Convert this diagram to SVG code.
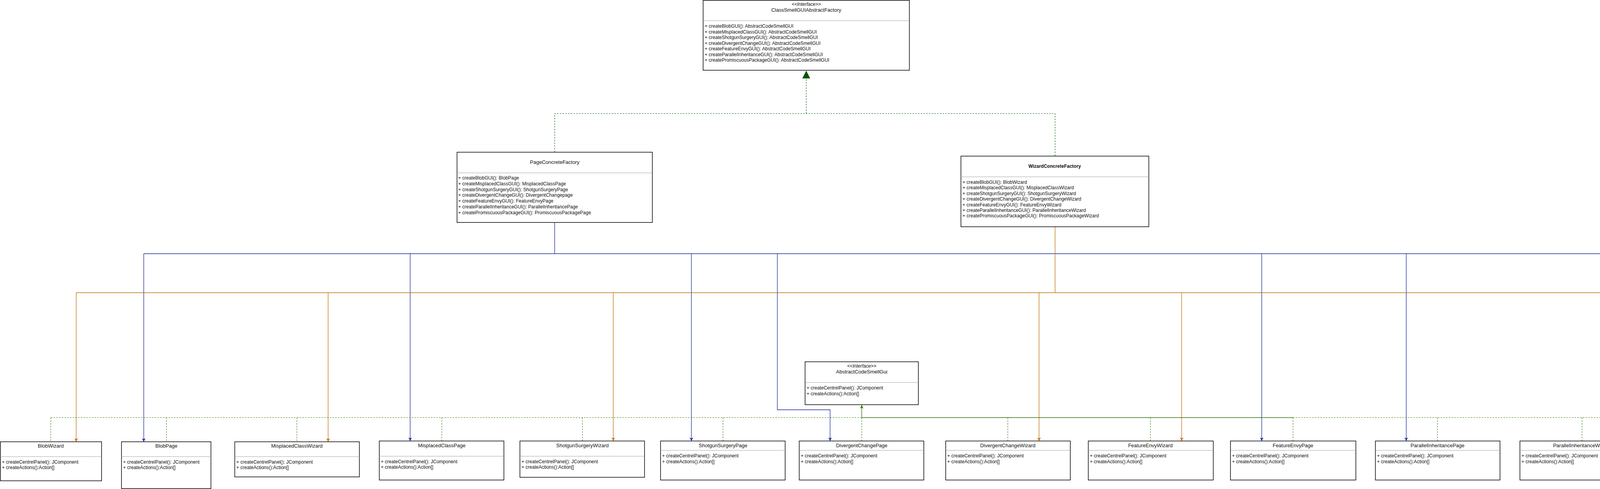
<svg xmlns="http://www.w3.org/2000/svg" width="4920" height="1253" viewBox="0 0 4920 1253">
<style>
.box{fill:#ffffff;stroke:#000000;stroke-width:1.5}
.div{stroke:#a0a0a0;stroke-width:1.2}
text{font-family:"Liberation Sans",Arial,sans-serif;fill:#111111}
.t{font-size:13px;text-anchor:middle}
.tb{font-size:12px;text-anchor:middle;font-weight:bold}
.st{font-size:12px;text-anchor:middle;font-style:italic}
.m{font-size:12px}
.blue{fill:none;stroke:#16289a;stroke-width:1.3}
.orange{fill:none;stroke:#bd7000;stroke-width:1.3}
.gd{fill:none;stroke:#2d7600;stroke-width:1.1;stroke-dasharray:4 3}
.gs{fill:none;stroke:#2d7600;stroke-width:1.3}
.gtop{fill:none;stroke:#005700;stroke-width:1.1;stroke-dasharray:4 3}
</style>
<defs>
<marker id="aBlue" markerUnits="userSpaceOnUse" markerWidth="10" markerHeight="10" refX="9" refY="4.5" orient="auto">
<path d="M0,0 L9,4.5 L0,9 L2.5,4.5 Z" fill="#16289a"/>
</marker>
<marker id="aOrange" markerUnits="userSpaceOnUse" markerWidth="10" markerHeight="10" refX="9" refY="4.5" orient="auto">
<path d="M0,0 L9,4.5 L0,9 L2.5,4.5 Z" fill="#bd7000"/>
</marker>
<marker id="aGreen" markerUnits="userSpaceOnUse" markerWidth="10" markerHeight="10" refX="9" refY="4.5" orient="auto">
<path d="M0,0 L9,4.5 L0,9 L2.5,4.5 Z" fill="#2d7600"/>
</marker>
</defs>
<rect x="0" y="0" width="4920" height="1253" fill="#ffffff"/>

<g id="connectors">
<!-- realization of top interface -->
<polyline class="gtop" points="1420,390 1420,291 2701,291 2701,400"/>
<line class="gtop" x1="2064" y1="291" x2="2064" y2="201"/>
<polygon points="2064,181 2054,201 2074,201" fill="#005700"/>

<!-- PageConcreteFactory creations (blue) -->
<line class="blue" x1="1420" y1="570" x2="1420" y2="650"/>
<line class="blue" x1="368" y1="650" x2="4679" y2="650"/>
<line class="blue" x1="368" y1="650" x2="368" y2="1132" marker-end="url(#aBlue)"/>
<line class="blue" x1="1050" y1="650" x2="1050" y2="1130" marker-end="url(#aBlue)"/>
<line class="blue" x1="1770" y1="650" x2="1770" y2="1130" marker-end="url(#aBlue)"/>
<polyline class="blue" points="1990,650 1990,1050 2125,1050 2125,1130" marker-end="url(#aBlue)"/>
<line class="blue" x1="3230" y1="650" x2="3230" y2="1130" marker-end="url(#aBlue)"/>
<line class="blue" x1="3600" y1="650" x2="3600" y2="1130" marker-end="url(#aBlue)"/>
<line class="blue" x1="4679" y1="650" x2="4679" y2="1130" marker-end="url(#aBlue)"/>

<!-- WizardConcreteFactory creations (orange) -->
<line class="orange" x1="2701" y1="581" x2="2701" y2="750"/>
<line class="orange" x1="195" y1="750" x2="4490" y2="750"/>
<line class="orange" x1="195" y1="750" x2="195" y2="1132" marker-end="url(#aOrange)"/>
<line class="orange" x1="840" y1="750" x2="840" y2="1132" marker-end="url(#aOrange)"/>
<line class="orange" x1="1570" y1="750" x2="1570" y2="1130" marker-end="url(#aOrange)"/>
<line class="orange" x1="2660" y1="750" x2="2660" y2="1130" marker-end="url(#aOrange)"/>
<line class="orange" x1="3025" y1="750" x2="3025" y2="1130" marker-end="url(#aOrange)"/>
<line class="orange" x1="4130" y1="750" x2="4130" y2="1130" marker-end="url(#aOrange)"/>
<line class="orange" x1="4490" y1="750" x2="4490" y2="1130" marker-end="url(#aOrange)"/>

<!-- realization of AbstractCodeSmellGui (green) -->
<line class="gd" x1="130" y1="1070" x2="2206" y2="1070"/>
<line class="gs" x1="2206" y1="1070" x2="3310" y2="1070"/>
<line class="gd" x1="3310" y1="1070" x2="4759" y2="1070"/>
<line class="gs" x1="2206" y1="1070" x2="2206" y2="1038" marker-end="url(#aGreen)"/>
<line class="gd" x1="130" y1="1070" x2="130" y2="1132"/>
<line class="gd" x1="426" y1="1070" x2="426" y2="1132"/>
<line class="gd" x1="760" y1="1070" x2="760" y2="1132"/>
<line class="gd" x1="1131" y1="1070" x2="1131" y2="1130"/>
<line class="gd" x1="1491" y1="1070" x2="1491" y2="1130"/>
<line class="gd" x1="1851" y1="1070" x2="1851" y2="1130"/>
<line class="gd" x1="2206" y1="1070" x2="2206" y2="1130"/>
<line class="gd" x1="2580" y1="1070" x2="2580" y2="1130"/>
<line class="gd" x1="2945" y1="1070" x2="2945" y2="1130"/>
<line class="gd" x1="3310" y1="1070" x2="3310" y2="1130"/>
<line class="gd" x1="3680" y1="1070" x2="3680" y2="1130"/>
<line class="gd" x1="4050" y1="1070" x2="4050" y2="1130"/>
<line class="gd" x1="4410" y1="1070" x2="4410" y2="1130"/>
<line class="gd" x1="4759" y1="1070" x2="4759" y2="1130"/>
</g>

<g id="ClassSmellGUIAbstractFactory">
<rect class="box" x="1800" y="1" width="528" height="179"/>
<line class="div" x1="1800" y1="53" x2="2328" y2="53"/>
<text class="st" x="2064" y="15">&lt;&lt;Interface&gt;&gt;</text>
<text class="t" x="2064" y="30">ClassSmellGUIAbstractFactory</text>
<text class="m" x="1804" y="71">+ createBlobGUI(): AbstractCodeSmellGUI</text>
<text class="m" x="1804" y="85.5">+ createMisplacedClassGUI(): AbstractCodeSmellGUI</text>
<text class="m" x="1804" y="100">+ createShotgunSurgeryGUI(): AbstractCodeSmellGUI</text>
<text class="m" x="1804" y="114.5">+ createDivergentChangeGUI(): AbstractCodeSmellGUI</text>
<text class="m" x="1804" y="129">+ createFeatureEnvyGUI(): AbstractCodeSmellGUI</text>
<text class="m" x="1804" y="143.5">+ createParallelInheritanceGUI(): AbstractCodeSmellGUI</text>
<text class="m" x="1804" y="158">+ createPromiscuousPackageGUI(): AbstractCodeSmellGUI</text>
</g>

<g id="PageConcreteFactory">
<rect class="box" x="1170" y="390" width="500" height="180"/>
<line class="div" x1="1170" y1="443" x2="1670" y2="443"/>
<text class="t" x="1420" y="420">PageConcreteFactory</text>
<text class="m" x="1173" y="460">+ createBlobGUI(): BlobPage</text>
<text class="m" x="1173" y="474.8">+ createMisplacedClassGUI(): MisplacedClassPage</text>
<text class="m" x="1173" y="489.6">+ createShotgunSurgeryGUI(): ShotgunSurgeryPage</text>
<text class="m" x="1173" y="504.4">+ createDivergentChangeGUI(): DivergentChangepage</text>
<text class="m" x="1173" y="519.2">+ createFeatureEnvyGUI(): FeatureEnvyPage</text>
<text class="m" x="1173" y="534">+ createParallelInheritanceGUI(): ParallelInheritancePage</text>
<text class="m" x="1173" y="548.8">+ createPromiscuousPackageGUI(): PromiscuousPackagePage</text>
</g>

<g id="WizardConcreteFactory">
<rect class="box" x="2460" y="400" width="481" height="181"/>
<line class="div" x1="2460" y1="453" x2="2941" y2="453"/>
<text class="tb" x="2700" y="430">WizardConcreteFactory</text>
<text class="m" x="2464" y="471">+ createBlobGUI(): BlobWizard</text>
<text class="m" x="2464" y="485.4">+ createMisplacedClassGUI(): MisplacedClassWizard</text>
<text class="m" x="2464" y="499.8">+ createShotgunSurgeryGUI(): ShotgunSurgeryWizard</text>
<text class="m" x="2464" y="514.2">+ createDivergentChangeGUI(): DivergentChangeWizard</text>
<text class="m" x="2464" y="528.6">+ createFeatureEnvyGUI(): FeatureEnvyWizard</text>
<text class="m" x="2464" y="543">+ createParallelInheritanceGUI(): ParallelInheritanceWizard</text>
<text class="m" x="2464" y="557.4">+ createPromiscuousPackageGUI(): PromiscuousPackageWizard</text>
</g>

<g id="AbstractCodeSmellGui">
<rect class="box" x="2061" y="927" width="290" height="110"/>
<line class="div" x1="2061" y1="980" x2="2351" y2="980"/>
<text class="st" x="2206" y="942">&lt;&lt;Interface&gt;&gt;</text>
<text class="t" x="2206" y="957">AbstractCodeSmellGui</text>
<text class="m" x="2065" y="998">+ createCentrelPanel(): JComponent</text>
<text class="m" x="2065" y="1013">+ createActions():Action[]</text>
</g>

<g id="BlobWizard">
<rect class="box" x="1" y="1132" width="259" height="100"/>
<line class="div" x1="1" y1="1170" x2="260" y2="1170"/>
<text class="t" x="130" y="1146.5">BlobWizard</text>
<text class="m" x="5" y="1188">+ createCentrelPanel(): JComponent</text>
<text class="m" x="5" y="1202">+ createActions():Action[]</text>
</g>

<g id="BlobPage">
<rect class="box" x="311" y="1132" width="229" height="120"/>
<line class="div" x1="311" y1="1170" x2="540" y2="1170"/>
<text class="t" x="426" y="1146.5">BlobPage</text>
<text class="m" x="315" y="1188">+ createCentrelPanel(): JComponent</text>
<text class="m" x="315" y="1202">+ createActions():Action[]</text>
</g>

<g id="MisplacedClassWizard">
<rect class="box" x="601" y="1132" width="319" height="90"/>
<line class="div" x1="601" y1="1170" x2="920" y2="1170"/>
<text class="t" x="760" y="1146.5">MisplacedClassWizard</text>
<text class="m" x="605" y="1188">+ createCentrelPanel(): JComponent</text>
<text class="m" x="605" y="1202">+ createActions():Action[]</text>
</g>

<g id="MisplacedClassPage">
<rect class="box" x="971" y="1130" width="319" height="100"/>
<line class="div" x1="971" y1="1169" x2="1290" y2="1169"/>
<text class="t" x="1131" y="1145.5">MisplacedClassPage</text>
<text class="m" x="975" y="1187">+ createCentrelPanel(): JComponent</text>
<text class="m" x="975" y="1201">+ createActions():Action[]</text>
</g>

<g id="ShotgunSurgeryWizard">
<rect class="box" x="1331" y="1130" width="319" height="93"/>
<line class="div" x1="1331" y1="1169" x2="1650" y2="1169"/>
<text class="t" x="1491" y="1145.5">ShotgunSurgeryWizard</text>
<text class="m" x="1335" y="1187">+ createCentrelPanel(): JComponent</text>
<text class="m" x="1335" y="1201">+ createActions():Action[]</text>
</g>

<g id="ShotgunSurgeryPage">
<rect class="box" x="1691" y="1130" width="319" height="100"/>
<line class="div" x1="1691" y1="1154" x2="2010" y2="1154"/>
<text class="t" x="1851" y="1145.5">ShotgunSurgeryPage</text>
<text class="m" x="1695" y="1172">+ createCentrelPanel(): JComponent</text>
<text class="m" x="1695" y="1187">+ createActions():Action[]</text>
</g>

<g id="DivergentChangePage">
<rect class="box" x="2046" y="1130" width="319" height="100"/>
<line class="div" x1="2046" y1="1154" x2="2365" y2="1154"/>
<text class="t" x="2206" y="1145.5">DivergentChangePage</text>
<text class="m" x="2050" y="1172">+ createCentrelPanel(): JComponent</text>
<text class="m" x="2050" y="1187">+ createActions():Action[]</text>
</g>

<g id="DivergentChangeWizard">
<rect class="box" x="2421" y="1130" width="319" height="100"/>
<line class="div" x1="2421" y1="1154" x2="2740" y2="1154"/>
<text class="t" x="2580" y="1145.5">DivergentChangeWizard</text>
<text class="m" x="2425" y="1172">+ createCentrelPanel(): JComponent</text>
<text class="m" x="2425" y="1187">+ createActions():Action[]</text>
</g>

<g id="FeatureEnvyWizard">
<rect class="box" x="2786" y="1130" width="320" height="100"/>
<line class="div" x1="2786" y1="1154" x2="3106" y2="1154"/>
<text class="t" x="2945" y="1145.5">FeatureEnvyWizard</text>
<text class="m" x="2790" y="1172">+ createCentrelPanel(): JComponent</text>
<text class="m" x="2790" y="1187">+ createActions():Action[]</text>
</g>

<g id="FeatureEnvyPage">
<rect class="box" x="3150" y="1130" width="321" height="100"/>
<line class="div" x1="3150" y1="1154" x2="3471" y2="1154"/>
<text class="t" x="3310" y="1145.5">FeatureEnvyPage</text>
<text class="m" x="3154" y="1172">+ createCentrelPanel(): JComponent</text>
<text class="m" x="3154" y="1187">+ createActions():Action[]</text>
</g>

<g id="ParallelInheritancePage">
<rect class="box" x="3521" y="1130" width="319" height="100"/>
<line class="div" x1="3521" y1="1154" x2="3840" y2="1154"/>
<text class="t" x="3680" y="1145.5">ParallelInheritancePage</text>
<text class="m" x="3525" y="1172">+ createCentrelPanel(): JComponent</text>
<text class="m" x="3525" y="1187">+ createActions():Action[]</text>
</g>

<g id="ParallelInheritanceWizard">
<rect class="box" x="3891" y="1130" width="320" height="100"/>
<line class="div" x1="3891" y1="1154" x2="4211" y2="1154"/>
<text class="t" x="4050" y="1145.5">ParallelInheritanceWizard</text>
<text class="m" x="3895" y="1172">+ createCentrelPanel(): JComponent</text>
<text class="m" x="3895" y="1187">+ createActions():Action[]</text>
</g>

<g id="PromiscuousPackageWizard">
<rect class="box" x="4250" y="1130" width="321" height="100"/>
<line class="div" x1="4250" y1="1154" x2="4571" y2="1154"/>
<text class="t" x="4410" y="1145.5">PromiscuousPackageWizard</text>
<text class="m" x="4254" y="1172">+ createCentrelPanel(): JComponent</text>
<text class="m" x="4254" y="1187">+ createActions():Action[]</text>
</g>

<g id="PromiscuousPackagePage">
<rect class="box" x="4600" y="1130" width="318" height="100"/>
<line class="div" x1="4600" y1="1154" x2="4918" y2="1154"/>
<text class="t" x="4759" y="1145.5">PromiscuousPackagePage</text>
<text class="m" x="4604" y="1172">+ createCentrelPanel(): JComponent</text>
<text class="m" x="4604" y="1187">+ createActions():Action[]</text>
</g>
</svg>
